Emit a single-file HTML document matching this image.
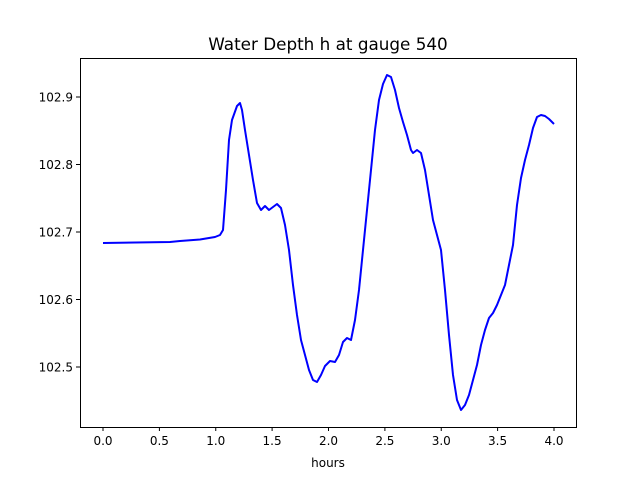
<!DOCTYPE html>
<html><head><style>body{margin:0;background:#fff}svg{display:block}text{font-family:"DejaVu Sans","Liberation Sans",sans-serif;fill:#000}</style></head>
<body>
<svg width="640" height="480" viewBox="0 0 640 480" xmlns="http://www.w3.org/2000/svg">
<rect width="640" height="480" fill="#fff"/>
<text x="328" y="50" font-size="16.8" text-anchor="middle">Water Depth h at gauge 540</text>
<polyline fill="none" stroke="#0000ff" stroke-width="2" stroke-linejoin="round" points="103,243 170,242 180,241 200,239.5 215,237 220,235 223,230 226,190 229,140 232,120 237,106 240,103 242,110 245,130 249,155 253,180 257,203 261,210 265,206 269,210 273,207 277,204 281,208 285,225 289,250 293,285 297,315 301,340 305,355 309,370 313,380 317,382 321,375 325,366 330,361 335,362 339,355 343,342 347,338 351,340 355,320 359,290 363,250 367,210 371,170 375,130 379,100 383,84 387,75 391,77 395,90 399,108 403,122 407,135 411,150 413,153 417,150 421,153 425,170 429,195 433,220 437,235 441,250 445,290 449,335 453,375 457,400 461,410 465,405 469,395 473,380 477,365 481,345 485,330 489,318 493,313 497,305 501,295 505,285 509,265 513,245 517,205 521,178 525,160 529,145 533,128 537,117 541,115 545,116 549,119 554,124"/>
<rect x="80.5" y="58.5" width="496" height="369" fill="none" stroke="#000" stroke-width="1"/>
<g stroke="#000" stroke-width="1">
<line x1="103" y1="427" x2="103" y2="431"/><line x1="159.4" y1="427" x2="159.4" y2="431"/><line x1="215.75" y1="427" x2="215.75" y2="431"/><line x1="272.1" y1="427" x2="272.1" y2="431"/><line x1="328.5" y1="427" x2="328.5" y2="431"/><line x1="384.9" y1="427" x2="384.9" y2="431"/><line x1="441.25" y1="427" x2="441.25" y2="431"/><line x1="497.6" y1="427" x2="497.6" y2="431"/><line x1="554" y1="427" x2="554" y2="431"/>
<line x1="76" y1="97" x2="80" y2="97"/><line x1="76" y1="164.5" x2="80" y2="164.5"/><line x1="76" y1="232" x2="80" y2="232"/><line x1="76" y1="299.5" x2="80" y2="299.5"/><line x1="76" y1="367" x2="80" y2="367"/>
</g>
<g font-size="12" text-anchor="middle">
<text x="103" y="445">0.0</text><text x="159.4" y="445">0.5</text><text x="215.75" y="445">1.0</text><text x="272.1" y="445">1.5</text><text x="328.5" y="445">2.0</text><text x="384.9" y="445">2.5</text><text x="441.25" y="445">3.0</text><text x="497.6" y="445">3.5</text><text x="554" y="445">4.0</text>
<text x="328" y="467">hours</text>
</g>
<g font-size="12" text-anchor="end">
<text x="73" y="101.5">102.9</text><text x="73" y="169">102.8</text><text x="73" y="236.5">102.7</text><text x="73" y="304">102.6</text><text x="73" y="371.5">102.5</text>
</g>
</svg>
</body></html>
